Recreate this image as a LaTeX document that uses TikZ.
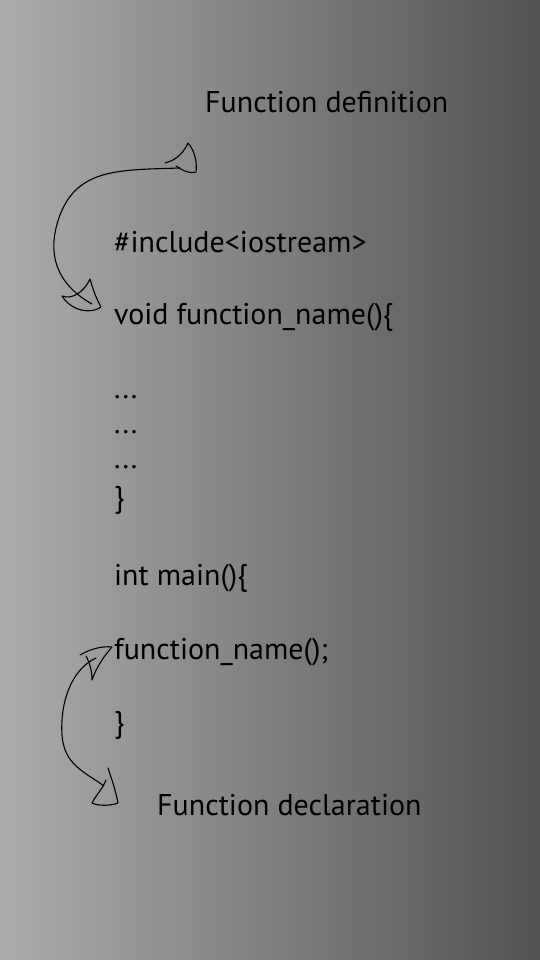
\documentclass[tikz,border=0pt]{standalone}
\usepackage{fontspec}
\setmainfont{PT Sans}
\usetikzlibrary{positioning}

\begin{document}
\begin{tikzpicture}[x=1pt, y=-1pt,
  code/.style = {anchor=west, inner sep=0pt, font=\fontsize{30}{36}\selectfont},
  curve/.style = {line width=1.1pt, line cap=round, line join=round}]
\useasboundingbox (0,0) rectangle (540,960);
\shade [left color={rgb,255:red,172;green,172;blue,172}, right color={rgb,255:red,84;green,82;blue,80}] (0,0) rectangle (540,960);
% labels
\node [code] (def) at (205,102) {Function definition};
\node [code] (dec) at (157,805) {Function declaration};
% code lines
\node [code] (inc) at (114,242) {\#include<iostream>};
\node [code] (void) at (114,317) {void function\_name()\{};
\node [code] (dots1) at (114,397) {...};
\node [code] (dots2) at (114,432) {...};
\node [code] (dots3) at (114,467) {...};
\node [code] (close1) at (114,500) {\}};
\node [code] (main) at (114,578) {int main()\{};
\node [code] (call) at (114,652) {function\_name();};
\node [code] (close2) at (114,725) {\}};
% top arrow
\coordinate (topA) at (180,168);
\coordinate (topB) at (92,304);
\draw [curve] (topA) .. controls (120,170) and (78,168) .. (60,215)
  .. controls (45,255) and (58,285) .. (topB);
\draw [curve] (165,163) .. controls (178,160) and (185,150) .. (188,143)
  .. controls (196,152) and (197,165) .. (196,172)
  .. controls (188,174) and (182,170) .. (176,166);
\draw [curve] (62,296) .. controls (72,300) and (84,292) .. (90,279)
  .. controls (93,290) and (97,300) .. (101,307)
  .. controls (92,314) and (72,312) .. (62,296);
% bottom arrow
\coordinate (botA) at (96,658);
\coordinate (botB) at (104,786);
\draw [curve] (botA) .. controls (70,670) and (60,705) .. (62,735)
  .. controls (64,765) and (85,772) .. (botB);
\draw [curve] (80,655) .. controls (92,648) and (104,646) .. (112,647)
  .. controls (104,656) and (96,668) .. (92,680)
  .. controls (92,672) and (90,663) .. (86,656);
\draw [curve] (108,768) .. controls (112,780) and (116,792) .. (118,803)
  .. controls (110,806) and (98,806) .. (92,803)
  .. controls (96,795) and (102,790) .. (106,780);
\end{tikzpicture}
\end{document}
